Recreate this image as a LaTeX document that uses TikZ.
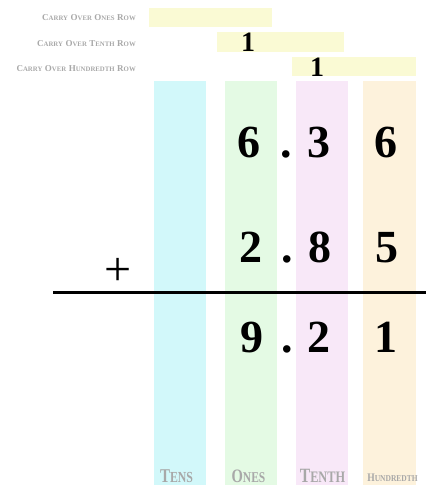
\documentclass[tikz,border=0pt]{standalone}
\usepackage{fontspec}
\setmainfont{Liberation Serif}
\definecolor{tenscol}{HTML}{D2F8FA}
\definecolor{onescol}{HTML}{E4FAE4}
\definecolor{tenthcol}{HTML}{F8E8F8}
\definecolor{hundcol}{HTML}{FDF2DC}
\definecolor{carrycol}{HTML}{FAFAD4}
\definecolor{labgray}{HTML}{A8A8A8}
\newcommand{\fsc}[4]{{\fontsize{#1}{#1}\selectfont #3}{\fontsize{#2}{#1}\selectfont #4}}
\begin{document}
\begin{tikzpicture}[x=1pt,y=-1pt,
  digit/.style={font=\fontsize{46}{46}\selectfont\bfseries, inner sep=0pt, anchor=base},
  carrydigit/.style={font=\fontsize{28}{28}\selectfont\bfseries, inner sep=0pt, anchor=base},
  carrylab/.style={font=\bfseries, text=labgray, inner sep=0pt, anchor=base east},
  collab/.style={font=\bfseries, text=labgray, inner sep=0pt, anchor=base}]
\useasboundingbox (0,0) rectangle (426,485);
% column bands
\fill[tenscol] (154,81) rectangle (206,485);
\fill[onescol] (225,81) rectangle (277,485);
\fill[tenthcol] (296,81) rectangle (348,485);
\fill[hundcol] (363,81) rectangle (416,485);
% carry rows
\fill[carrycol] (149,8) rectangle (272,27);
\fill[carrycol] (217,32) rectangle (344,52);
\fill[carrycol] (292,57) rectangle (416,76);
\node[carrylab] (l1) at (136,20) {\fsc{9}{6.8}{C}{ARRY} \fsc{9}{6.8}{O}{VER} \fsc{9}{6.8}{O}{NES} \fsc{9}{6.8}{R}{OW}};
\node[carrylab] (l2) at (136,46) {\fsc{9}{6.8}{C}{ARRY} \fsc{9}{6.8}{O}{VER} \fsc{9}{6.8}{T}{ENTH} \fsc{9}{6.8}{R}{OW}};
\node[carrylab] (l3) at (136,71) {\fsc{9}{6.8}{C}{ARRY} \fsc{9}{6.8}{O}{VER} \fsc{9}{6.8}{H}{UNDREDTH} \fsc{9}{6.8}{R}{OW}};
\node[carrydigit] (c1) at (248,51.5) {1};
\node[carrydigit] (c2) at (317,76) {1};
% digits
\node[digit] (a1) at (249,157.7) {6};
\node[digit] (a2) at (286,157.7) {.};
\node[digit] (a3) at (319,157.7) {3};
\node[digit] (a4) at (386,157.7) {6};
\node[digit] (b1) at (251,262.7) {2};
\node[digit] (b2) at (287,262.7) {.};
\node[digit] (b3) at (320,262.7) {8};
\node[digit] (b4) at (387,262.7) {5};
\node[font=\fontsize{48}{48}\selectfont, inner sep=0pt, anchor=base] (plus) at (118,285) {+};
\node[digit] (r1) at (252,352.7) {9};
\node[digit] (r2) at (287,352.7) {.};
\node[digit] (r3) at (319,352.7) {2};
\node[digit] (r4) at (386,352.7) {1};
\coordinate (ls) at (53,292);
\coordinate (le) at (426,292);
\draw[line width=3pt] (ls) -- (le);
% column labels
\node[collab] (t1) at (176.5,482) {\scalebox{1}[1.3]{\fsc{15}{11.8}{T}{ENS}}};
\node[collab] (t2) at (248.5,482) {\scalebox{1}[1.3]{\fsc{14.6}{11.5}{O}{NES}}};
\node[collab] (t3) at (322.5,482) {\scalebox{1}[1.3]{\fsc{15.6}{12.3}{T}{ENTH}}};
\node[collab] (t4) at (392.5,481) {\scalebox{1}[1.2]{\fsc{9.6}{7.5}{H}{UNDREDTH}}};
\end{tikzpicture}
\end{document}
